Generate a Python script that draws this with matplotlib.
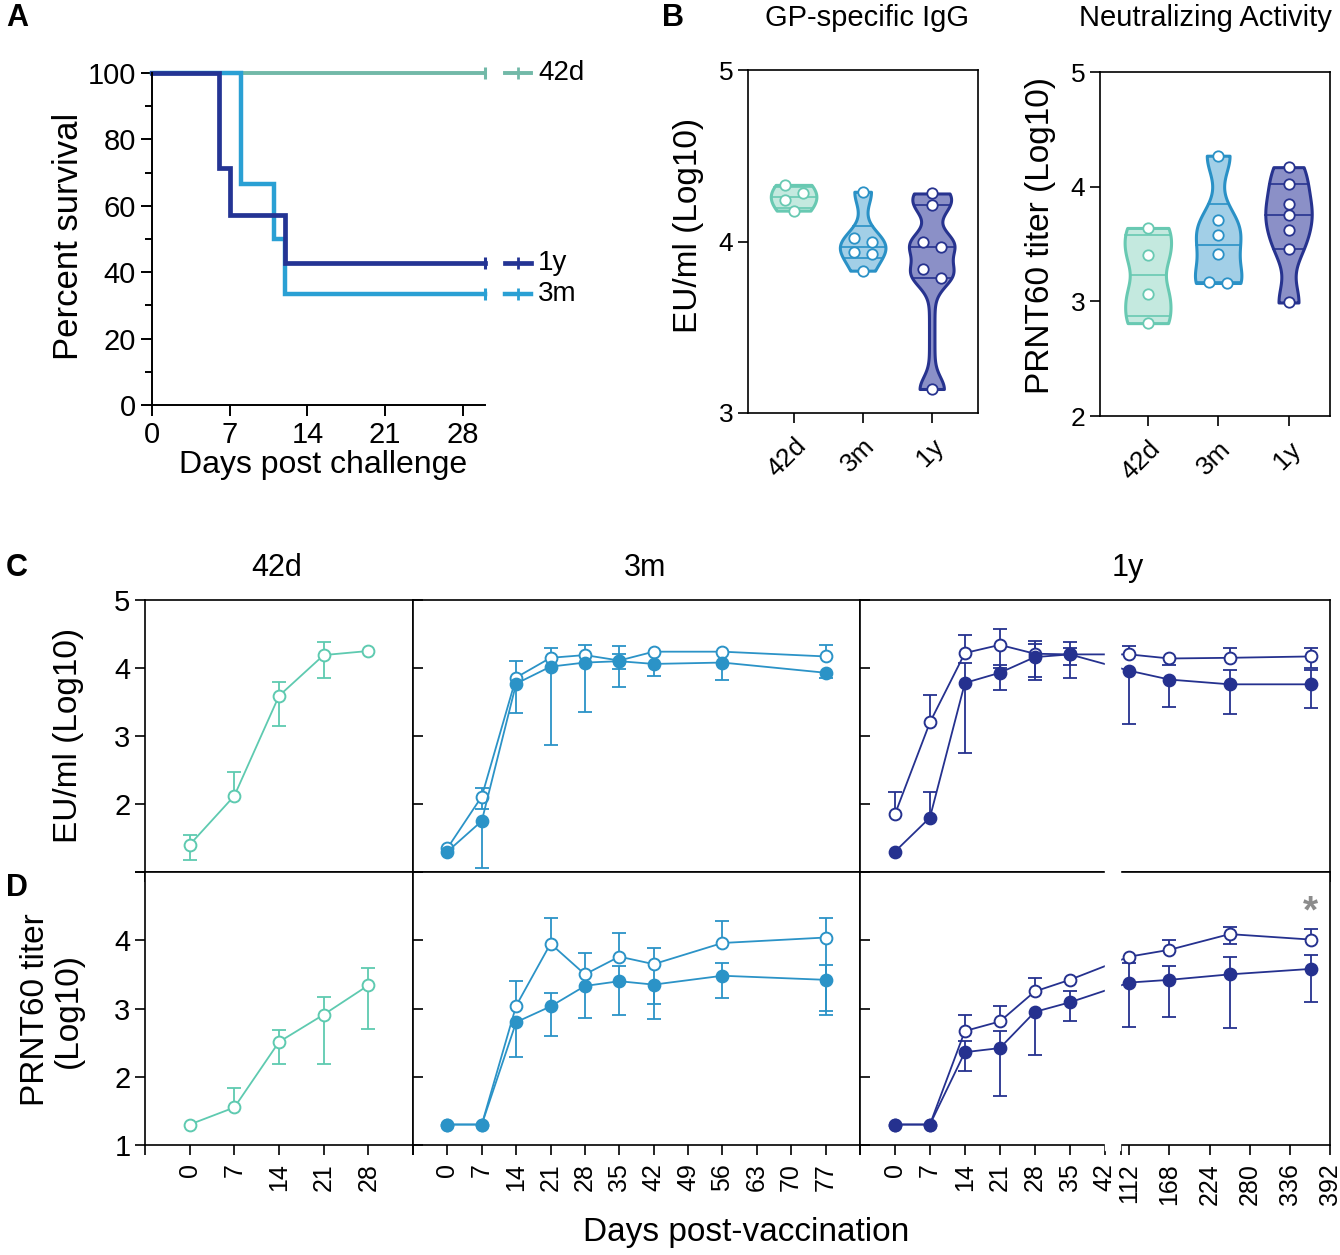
import numpy as np
import matplotlib
matplotlib.use('Agg')
import matplotlib.pyplot as plt

plt.rcParams['font.family'] = ['Liberation Sans', 'DejaVu Sans']

W, H = 1340, 1255

# colours
col_42d = '#5ecab0'
col_3m = '#2b93c7'
col_1y = '#25318f'
surv_cols = ['#72b9a8', '#2aa0d4', '#243494']
violin_faces = ['#c4e9df', '#a2cfe7', '#8b90c7']
violin_edges = ['#68c9b2', '#2a91c6', '#27338f']

# ---- panel A: survival
surv_groups = ['42d', '3m', '1y']
surv_days_42d = [0, 30]
surv_42d = [100, 100]
surv_days_3m = [0, 8, 11, 12, 30]
surv_3m = [100, 66.7, 50.0, 33.3, 33.3]
surv_days_1y = [0, 6, 7, 12, 30]
surv_1y = [100, 71.4, 57.1, 42.9, 42.9]

# ---- panel B: violins
vio_labels = ['42d', '3m', '1y']
igg_42d = [4.28, 4.33, 4.24, 4.18]
igg_3m = [4.29, 4.02, 4.00, 3.94, 3.93, 3.83]
igg_1y = [4.28, 4.21, 4.00, 3.97, 3.84, 3.79, 3.14]
prnt_42d = [3.64, 3.40, 3.06, 2.81]
prnt_3m = [4.27, 3.71, 3.58, 3.41, 3.17, 3.16]
prnt_1y = [4.17, 4.02, 3.85, 3.75, 3.62, 3.46, 2.99]

# ---- panels C/D: kinetics
days_42d = [0, 7, 14, 21, 28]
days_3m = [0, 7, 14, 21, 28, 35, 42, 56, 77]
days_1y = [0, 7, 14, 21, 28, 35, 112, 168, 252, 365]

igg42_m = [1.40, 2.12, 3.59, 4.19, 4.25]
igg42_hi = [1.54, 2.47, 3.80, 4.38, 4.25]
igg42_lo = [1.17, 2.12, 3.14, 3.85, 4.25]

igg3m_open_m = [1.35, 2.11, 3.86, 4.15, 4.19, 4.11, 4.24, 4.24, 4.17]
igg3m_open_hi = [1.35, 2.24, 3.86, 4.30, 4.34, 4.32, 4.24, 4.24, 4.34]
igg3m_open_lo = [1.35, 1.92, 3.86, 4.15, 4.19, 3.99, 4.24, 4.24, 4.17]
igg3m_fill_m = [1.30, 1.75, 3.77, 4.02, 4.08, 4.10, 4.06, 4.08, 3.93]
igg3m_fill_hi = [1.30, 1.75, 4.10, 4.02, 4.08, 4.21, 4.06, 4.08, 3.93]
igg3m_fill_lo = [1.30, 1.06, 3.34, 2.87, 3.36, 3.72, 3.88, 3.83, 3.85]

igg1y_open_m = [1.85, 3.20, 4.22, 4.34, 4.21, 4.20, 4.20, 4.14, 4.15, 4.17]
igg1y_open_hi = [2.17, 3.61, 4.49, 4.58, 4.40, 4.38, 4.33, 4.14, 4.29, 4.29]
igg1y_open_lo = [1.85, 3.20, 4.22, 4.00, 3.87, 4.04, 4.20, 4.04, 4.15, 4.00]
igg1y_fill_m = [1.30, 1.80, 3.78, 3.93, 4.16, 4.20, 3.96, 3.83, 3.76, 3.76]
igg1y_fill_hi = [1.30, 2.18, 4.07, 4.05, 4.35, 4.30, 3.96, 3.83, 3.97, 3.97]
igg1y_fill_lo = [1.30, 1.80, 2.75, 3.68, 3.82, 3.85, 3.18, 3.42, 3.33, 3.41]

prnt42_m = [1.30, 1.55, 2.51, 2.91, 3.34]
prnt42_hi = [1.30, 1.83, 2.69, 3.17, 3.59]
prnt42_lo = [1.30, 1.55, 2.19, 2.18, 2.70]

prnt3m_open_m = [1.30, 1.30, 3.04, 3.95, 3.50, 3.76, 3.65, 3.96, 4.04]
prnt3m_open_hi = [1.30, 1.30, 3.40, 4.32, 3.81, 4.10, 3.89, 4.28, 4.33]
prnt3m_open_lo = [1.30, 1.30, 3.04, 3.95, 3.50, 3.76, 3.07, 3.96, 2.97]
prnt3m_fill_m = [1.30, 1.30, 2.80, 3.03, 3.33, 3.40, 3.35, 3.48, 3.42]
prnt3m_fill_hi = [1.30, 1.30, 2.80, 3.23, 3.33, 3.62, 3.35, 3.66, 3.64]
prnt3m_fill_lo = [1.30, 1.30, 2.29, 2.60, 2.86, 2.91, 2.85, 3.15, 2.91]

prnt1y_open_m = [1.30, 1.30, 2.67, 2.81, 3.25, 3.42, 3.76, 3.86, 4.09, 4.01]
prnt1y_open_hi = [1.30, 1.30, 2.90, 3.03, 3.45, 3.42, 3.76, 4.01, 4.20, 4.16]
prnt1y_open_lo = [1.30, 1.30, 2.67, 2.81, 3.25, 3.42, 3.76, 3.86, 3.94, 4.01]
prnt1y_fill_m = [1.30, 1.30, 2.36, 2.42, 2.95, 3.09, 3.38, 3.42, 3.50, 3.58]
prnt1y_fill_hi = [1.30, 1.30, 2.52, 2.67, 2.95, 3.25, 3.66, 3.63, 3.76, 3.79]
prnt1y_fill_lo = [1.30, 1.30, 2.08, 1.72, 2.32, 2.82, 2.73, 2.87, 2.72, 3.09]

ticks_42d = [-7, 0, 7, 14, 21, 28, 35]
ticks_3m = list(range(-7, 85, 7))
ticks_1y = [-7, 0, 7, 14, 21, 28, 35, 42, 100, 112, 168, 224, 280, 336, 392]


def box(x0, y0, x1, y1):
    return [x0 / W, 1 - y1 / H, (x1 - x0) / W, (y1 - y0) / H]


def fxy(x, y):
    return x / W, 1 - y / H


fig = plt.figure(figsize=(13.4, 12.55), dpi=100)

# ================= A
axA = fig.add_axes(box(152, 73, 485, 405))
surv = [(surv_days_42d, surv_42d), (surv_days_3m, surv_3m), (surv_days_1y, surv_1y)]
for (d, v), col, lw, name in zip(surv, surv_cols, [2.8, 3.2, 3.4], surv_groups):
    axA.step(d, v, where='post', color=col, lw=lw, clip_on=False, solid_joinstyle='miter')
    axA.plot(d[-1], v[-1], marker='|', ms=9, mew=2.2, color=col, clip_on=False)
    # legend entry at the end of the curve
    axA.plot([31.8, 34.1], [v[-1], v[-1]], color=col, lw=lw, clip_on=False)
    axA.plot(32.95, v[-1], marker='|', ms=8, mew=2, color=col, clip_on=False)
    axA.text(34.8, v[-1], name, fontsize=20, va='center', ha='left')
axA.set_xlim(0, 30)
axA.set_ylim(0, 100)
axA.set_xticks([0, 7, 14, 21, 28])
axA.set_yticks(range(0, 101, 20))
axA.set_yticks(range(10, 100, 20), minor=True)
for s in ['top', 'right']:
    axA.spines[s].set_visible(False)
for s in ['left', 'bottom']:
    axA.spines[s].set_linewidth(1.4)
axA.tick_params(which='both', direction='out', width=1.4, labelsize=21)
axA.tick_params(which='major', length=8)
axA.tick_params(which='minor', length=5)
fig.text(*fxy(68, 236), 'Percent survival', rotation=90, fontsize=25, ha='center', va='center')
fig.text(*fxy(323, 465), 'Days post challenge', fontsize=23, ha='center', va='center')


# ================= B
def swarm(vals, dy, step):
    # points closer than dy are spread left/right in a zigzag
    vals = np.asarray(vals)
    order = np.argsort(vals)[::-1]
    offs = np.zeros(len(vals))
    cluster = [order[0]]
    for i in list(order[1:]) + [None]:
        if i is not None and vals[cluster[-1]] - vals[i] < dy:
            cluster.append(i)
            continue
        if len(cluster) > 1:
            for k, j in enumerate(cluster):
                offs[j] = -step if k % 2 == 0 else step
        cluster = [i]
    return offs


def violins(ax, groups, bw, dy):
    for i, vals in enumerate(groups):
        v = np.asarray(vals)
        ys = np.linspace(v.min(), v.max(), 200)
        d = np.exp(-0.5 * ((ys[:, None] - v[None, :]) / bw) ** 2).sum(1)
        w = 0.33 * (0.12 + 0.88 * d / d.max())
        x = i + 1
        ax.fill_betweenx(ys, x - w, x + w, facecolor=violin_faces[i], edgecolor=violin_edges[i],
                         lw=2.2, zorder=2)
        for q in np.percentile(vals, [25, 50, 75], method='weibull'):
            ww = np.interp(q, ys, w)
            ax.plot([x - ww, x + ww], [q, q], color=violin_edges[i], lw=1.2, zorder=3)
        ax.plot(x + swarm(vals, dy, 0.13), vals, ls='none', marker='o', ms=7.5, mfc='white',
                mec=violin_edges[i], mew=1.3, zorder=4)
    ax.set_xticks([1, 2, 3])
    ax.set_xticklabels(vio_labels, rotation=45, ha='right', va='top', rotation_mode='anchor')
    ax.tick_params(direction='out', length=7, width=1.2, labelsize=19)
    ax.tick_params(axis='x', pad=8)
    for s in ax.spines.values():
        s.set_linewidth(1.2)


axB1 = fig.add_axes(box(748, 70, 978, 413))
violins(axB1, [igg_42d, igg_3m, igg_1y], 0.07, 0.052)
axB1.set_xlim(0.34, 3.67)
axB1.set_ylim(3, 5)
axB1.set_yticks([3, 4, 5])
fig.text(*fxy(688, 225), 'EU/ml (Log10)', rotation=90, fontsize=24, ha='center', va='center')
fig.text(*fxy(867, 18), 'GP-specific IgG', fontsize=21, ha='center', va='center')

axB2 = fig.add_axes(box(1100, 72, 1330, 416))
violins(axB2, [prnt_42d, prnt_3m, prnt_1y], 0.15, 0.078)
axB2.set_xlim(0.32, 3.59)
axB2.set_ylim(2, 5)
axB2.set_yticks([2, 3, 4, 5])
fig.text(*fxy(1040, 236), 'PRNT60 titer (Log10)', rotation=90, fontsize=24, ha='center', va='center')
fig.text(*fxy(1205, 18), 'Neutralizing Activity', fontsize=21, ha='center', va='center')


# ================= C / D
def brk_fwd(d):
    d = np.asarray(d, dtype=float)
    return np.where(d <= 42, d, np.where(d >= 100, 45.2 + (d - 100) * 0.1435, 42 + (d - 42) / 58 * 3.2))


def brk_inv(u):
    u = np.asarray(u, dtype=float)
    return np.where(u <= 42, u, np.where(u >= 45.2, 100 + (u - 45.2) / 0.1435, 42 + (u - 42) / 3.2 * 58))


def series(ax, x, m, lo, hi, col, filled):
    x, m, lo, hi = map(np.asarray, (x, m, lo, hi))
    for end in (hi, lo):
        sel = np.abs(end - m) > 1e-9
        ax.vlines(x[sel], m[sel], end[sel], color=col, lw=1.3, zorder=3)
        ax.plot(x[sel], end[sel], ls='none', marker='_', ms=10, mew=1.3, color=col, zorder=3)
    ax.plot(x, m, color=col, lw=1.3, marker='o', ms=8.5, mfc=col if filled else 'white',
            mec=col, mew=1.4, zorder=5 if filled else 4)


def setup(ax, ticks, xlim, first, row, broken=False):
    ax.set_ylim(1, 5)
    ax.set_yticks([1, 2, 3, 4, 5])
    if broken:
        ax.set_xscale('function', functions=(brk_fwd, brk_inv))
    ax.set_xlim(*xlim)
    ax.set_xticks(ticks)
    hidden = [xlim[0], xlim[1], 100]
    if row == 'D':
        ax.set_xticklabels(['' if (t in hidden and t != 392) else str(t) for t in ticks])
        ax.tick_params(axis='x', labelrotation=90, labelsize=18, pad=6)
    else:
        ax.set_xticklabels([])
    ax.tick_params(axis='x', direction='out', length=7, width=1.2)
    if first:
        ylabs = ['', '2', '3', '4', '5'] if row == 'C' else ['1', '2', '3', '4', '']
        ax.set_yticklabels(ylabs)
        ax.tick_params(axis='y', direction='out', length=7, width=1.2, labelsize=21)
    else:
        ax.set_yticklabels([])
        ax.tick_params(axis='y', direction='in', length=7, width=1.2)
    for s in ax.spines.values():
        s.set_linewidth(1.2)
    if broken:
        top = 0.99 if row == 'C' else 1.02
        ax.axvspan(42.5, 97.0, ymin=-0.02, ymax=top, color='white', zorder=6, clip_on=False)


rows = {
    'C': (872, 600, [(igg42_m, igg42_lo, igg42_hi)],
          [(igg3m_open_m, igg3m_open_lo, igg3m_open_hi), (igg3m_fill_m, igg3m_fill_lo, igg3m_fill_hi)],
          [(igg1y_open_m, igg1y_open_lo, igg1y_open_hi), (igg1y_fill_m, igg1y_fill_lo, igg1y_fill_hi)]),
    'D': (1145, 872, [(prnt42_m, prnt42_lo, prnt42_hi)],
          [(prnt3m_open_m, prnt3m_open_lo, prnt3m_open_hi), (prnt3m_fill_m, prnt3m_fill_lo, prnt3m_fill_hi)],
          [(prnt1y_open_m, prnt1y_open_lo, prnt1y_open_hi), (prnt1y_fill_m, prnt1y_fill_lo, prnt1y_fill_hi)]),
}
for row, (yb, yt, s42, s3m, s1y) in rows.items():
    ax1 = fig.add_axes(box(145, yt, 413, yb))
    series(ax1, days_42d, *s42[0], col_42d, False)
    setup(ax1, ticks_42d, (-7, 35), True, row)

    ax2 = fig.add_axes(box(413, yt, 860, yb))
    series(ax2, days_3m, *s3m[0], col_3m, False)
    series(ax2, days_3m, *s3m[1], col_3m, True)
    setup(ax2, ticks_3m, (-7, 84), False, row)

    ax3 = fig.add_axes(box(860, yt, 1330, yb))
    series(ax3, days_1y, *s1y[0], col_1y, False)
    series(ax3, days_1y, *s1y[1], col_1y, True)
    setup(ax3, ticks_1y, (-7, 392), False, row, broken=True)
    if row == 'D':
        ax3.text(days_1y[-1], 4.4, '*', color='#8c8c8c', fontsize=28, ha='center', va='center',
                 fontweight='bold')

for name, x in [('42d', 277), ('3m', 645), ('1y', 1128)]:
    fig.text(*fxy(x, 568), name, fontsize=22, ha='center', va='center')

fig.text(*fxy(68, 735), 'EU/ml (Log10)', rotation=90, fontsize=24, ha='center', va='center')
fig.text(*fxy(52, 1010), 'PRNT60 titer\n(Log10)', rotation=90, fontsize=24, ha='center',
         va='center', multialignment='center', linespacing=1.1)
fig.text(*fxy(746, 1232), 'Days post-vaccination', fontsize=24, ha='center', va='center')

for letter, x, y in [('A', 17, 18), ('B', 673, 18), ('C', 17, 568), ('D', 17, 888)]:
    fig.text(*fxy(x, y), letter, fontsize=22, fontweight='bold', ha='center', va='center')

fig.savefig('out.png', dpi=100)
